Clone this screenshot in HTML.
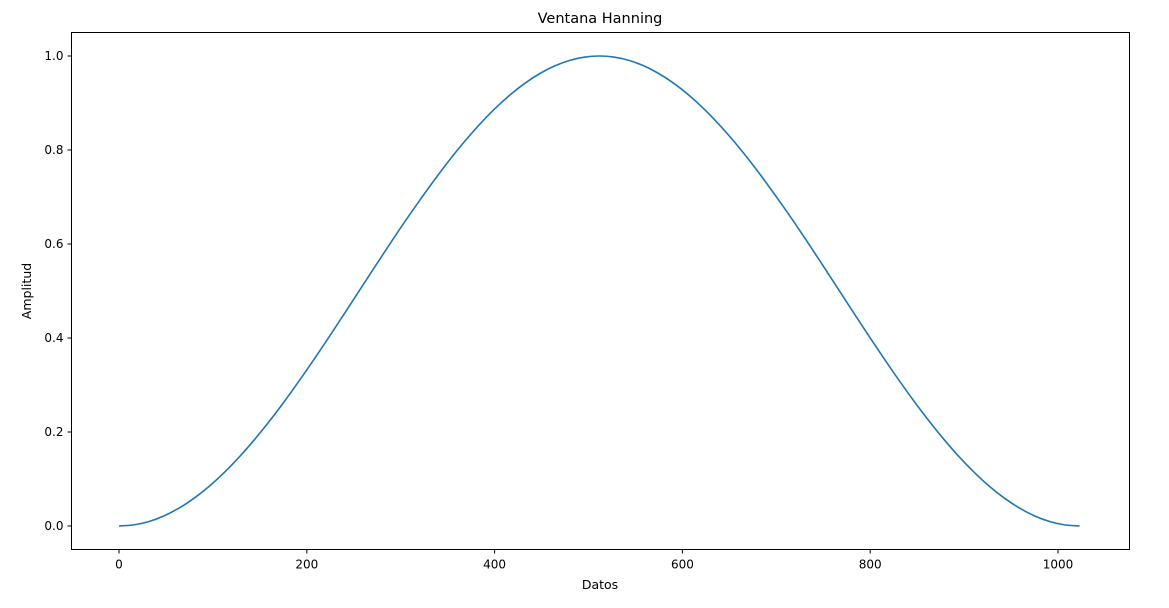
<!DOCTYPE html>
<html><head><meta charset="utf-8"><style>
body{margin:0;background:#fff}
svg text{font-family:"DejaVu Sans","Liberation Sans",sans-serif;fill:#000}
</style></head><body>
<svg width="1169" height="603" viewBox="0 0 1169 603" xmlns="http://www.w3.org/2000/svg">
<g id="g"></g>
</svg>
<script>
const xHalf=[0,16,32,48,64,80,96,112,128,144,160,176,192,208,224,240,256,272,288,304,320,336,352,368,384,400,416,432,448,464,480,496,512];
const yHalf=[0,0.0024,0.0096,0.0216,0.0381,0.0592,0.0844,0.1137,0.1467,0.1831,0.2226,0.2647,0.3091,0.3554,0.4031,0.4518,0.5010,0.5501,0.5988,0.6464,0.6922,0.7365,0.7787,0.8181,0.8543,0.8873,0.9164,0.9416,0.9625,0.9789,0.9907,0.9977,1.0];
const xTicks=[0,200,400,600,800,1000];
const yTicks=[0,0.2,0.4,0.6,0.8,1.0];
const yTickLabels=["0.0","0.2","0.4","0.6","0.8","1.0"];

const xs=[...xHalf];const ys=[...yHalf];
for(let i=xHalf.length-2;i>=0;i--){xs.push(1023-xHalf[i]);ys.push(yHalf[i]);}
const L=71.5,R=1129.5,T=32.5,B=549.5;
const X=v=>119+v*0.939;
const Y=v=>526-v*470;
const g=document.getElementById('g');
const NS='http://www.w3.org/2000/svg';
function mk(t,a,txt){const e=document.createElementNS(NS,t);for(const k in a)e.setAttribute(k,a[k]);if(txt!==undefined)e.textContent=txt;g.appendChild(e);return e;}
const P=xs.map((x,i)=>[X(x),Y(ys[i])]);
let d=`M${P[0][0]},${P[0][1]}`;
for(let i=0;i<P.length-1;i++){const p0=P[Math.max(0,i-1)],p1=P[i],p2=P[i+1],p3=P[Math.min(P.length-1,i+2)];
d+=` C${p1[0]+(p2[0]-p0[0])/6},${p1[1]+(p2[1]-p0[1])/6} ${p2[0]-(p3[0]-p1[0])/6},${p2[1]-(p3[1]-p1[1])/6} ${p2[0]},${p2[1]}`;}
const line=mk('path',{d,fill:'none',stroke:'#1f77b4','stroke-width':1.6});


const frame=mk('rect',{x:L,y:T,width:R-L,height:B-T,fill:'none',stroke:'#000','stroke-width':1});


xTicks.forEach(v=>{const x=X(v);mk('line',{x1:x,x2:x,y1:B,y2:B+4,stroke:'#000'});
const t=mk('text',{x:x,y:B+19,'text-anchor':'middle','font-size':12},String(v));

});
yTicks.forEach((v,i)=>{const y=Y(v);mk('line',{x1:L-4,x2:L,y1:y,y2:y,stroke:'#000'});
const t=mk('text',{x:L-8,y:y+4,'text-anchor':'end','font-size':12},yTickLabels[i]);

});
const ti=mk('text',{x:600,y:23,'text-anchor':'middle','font-size':14.5},'Ventana Hanning');


const xl=mk('text',{x:600,y:589,'text-anchor':'middle','font-size':12.5},'Datos');


const yl=mk('text',{x:31,y:291,'text-anchor':'middle','font-size':12.5,transform:'rotate(-90 31 291)'},'Amplitud');


</script>
</body></html>
